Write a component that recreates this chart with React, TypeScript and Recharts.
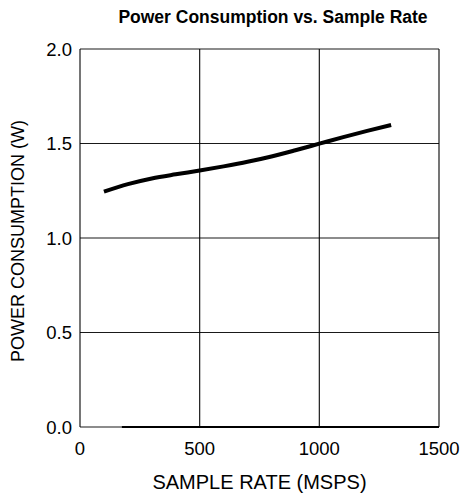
import React from "react";
import { LineChart, Line, XAxis, YAxis, CartesianGrid, ReferenceLine } from "recharts";

const sampleRate = [100, 200, 300, 400, 500, 600, 700, 800, 900, 1000, 1100, 1200, 1300];
const power = [1.245, 1.285, 1.315, 1.337, 1.357, 1.379, 1.403, 1.431, 1.464, 1.499, 1.534, 1.567, 1.598];
const xTicks = [0, 500, 1000, 1500];
const yTicks = [0, 0.5, 1.0, 1.5, 2.0];

const data = sampleRate.map((x, i) => ({ x, y: power[i] }));

const FONT = "'Liberation Sans', Arial, sans-serif";

export default function App() {
  return (
    <div style={{ position: "absolute", left: 0, top: 0, width: 465, height: 497, background: "#fff" }}>
      <div
        style={{
          position: "absolute",
          left: 0,
          top: 7,
          width: 465,
          textAlign: "center",
          fontFamily: FONT,
          fontWeight: "bold",
          fontSize: 17.5,
          lineHeight: "20px",
          color: "#000",
          paddingLeft: 81,
          boxSizing: "border-box",
          whiteSpace: "nowrap",
        }}
      >
        Power Consumption vs. Sample Rate
      </div>
      <LineChart width={465} height={497} data={data} margin={{ top: 49, right: 26, bottom: 20, left: 0 }}>
        <CartesianGrid stroke="#000" strokeWidth={1.2} strokeOpacity={0.9} />
        <XAxis
          dataKey="x"
          type="number"
          domain={[0, 1500]}
          ticks={xTicks}
          axisLine={false}
          tickLine={false}
          height={50}
          tick={{ fill: "#000", fontSize: 18.5, fontFamily: FONT }}
          tickMargin={9}
          label={{ value: "SAMPLE RATE (MSPS)", position: "insideBottom", offset: -12, fill: "#000", fontSize: 20, fontFamily: FONT }}
        />
        <YAxis
          type="number"
          domain={[0, 2]}
          ticks={yTicks}
          tickFormatter={(v: number) => v.toFixed(1)}
          axisLine={false}
          tickLine={false}
          width={80}
          tick={{ fill: "#000", fontSize: 18.5, fontFamily: FONT }}
          tickMargin={2}
          label={{ value: "POWER CONSUMPTION (W)", angle: -90, position: "insideLeft", offset: 18, dy: 3, style: { textAnchor: "middle" }, fill: "#000", fontSize: 18, fontFamily: FONT }}
        />
        <ReferenceLine segment={[{ x: 175, y: 0 }, { x: 1500, y: 0 }]} stroke="#000" strokeWidth={2} />
        <Line
          type="monotone"
          dataKey="y"
          stroke="#000"
          strokeWidth={4}
          dot={false}
          isAnimationActive={false}
        />
      </LineChart>
    </div>
  );
}
